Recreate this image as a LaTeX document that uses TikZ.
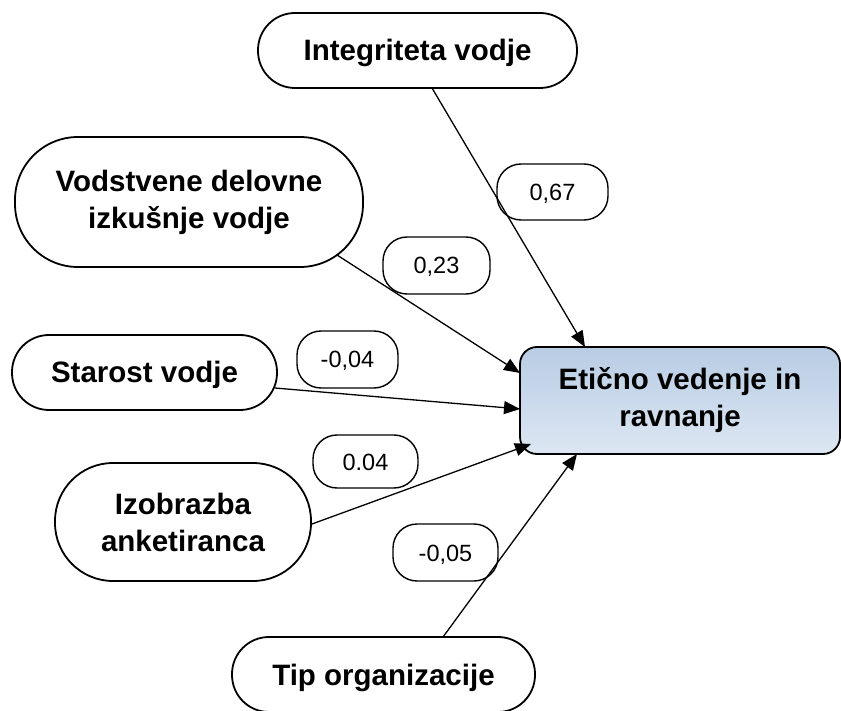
\documentclass[tikz,border=0pt]{standalone}
\usepackage{fontspec}
\setmainfont{Liberation Sans}
\usetikzlibrary{arrows.meta,calc}
\definecolor{boxtop}{HTML}{B8CCE4}
\definecolor{boxbot}{HTML}{DDE7F3}
\begin{document}
\begin{tikzpicture}[x=1pt,y=-1pt,
  factor/.style={draw, line width=1.8pt, fill=white, align=center,
    font=\fontsize{29.5}{37}\selectfont\bfseries, inner sep=0pt},
  oneline/.style={text height=21pt, text depth=0pt},
  coef/.style={draw, line width=1.4pt, rounded corners=24pt, inner sep=0pt,
    font=\fontsize{23.5}{27}\selectfont, text height=17pt, text depth=0pt},
  link/.style={line width=1.3pt, -{Triangle[length=16pt,width=13pt]}}]
\useasboundingbox (0,0) rectangle (841,711);
\clip (0,0) rectangle (841,711);

% outcome
\node[factor, minimum width=320pt, minimum height=107pt, rounded corners=17pt,
      top color=boxtop, bottom color=boxbot] (eti) at (680,400.5)
      {Etično vedenje in\\ravnanje};

% predictors
\node[factor, oneline, minimum width=319pt, minimum height=75pt, rounded corners=37pt]
  (integ) at (417.5,50.5) {Integriteta vodje};
\node[factor, minimum width=348pt, minimum height=130pt, rounded corners=63pt]
  (vodst) at (189,202) {Vodstvene delovne\\izkušnje vodje};
\node[factor, oneline, minimum width=265pt, minimum height=75pt, rounded corners=37pt]
  (staro) at (144.5,372.5) {Starost vodje};
\node[factor, minimum width=256pt, minimum height=118pt, rounded corners=58pt]
  (izobr) at (183,522) {Izobrazba\\anketiranca};
\node[factor, oneline, minimum width=303pt, minimum height=75pt, rounded corners=37pt]
  (tipor) at (383.5,674.5) {Tip organizacije};

% path coefficients
\node[coef, minimum width=111pt, minimum height=56pt] (c1) at (552.5,192) {0,67};
\node[coef, minimum width=107pt, minimum height=57pt] (c2) at (436.5,265.5) {0,23};
\node[coef, minimum width=101pt, minimum height=57pt] (c3) at (347.5,359.5) {-0,04};
\node[coef, minimum width=105pt, minimum height=53pt] (c4) at (365.5,461.5) {0.04};
\node[coef, minimum width=105pt, minimum height=57pt] (c5) at (445.5,552.5) {-0,05};

% effects
\draw[link] ($(integ.center)+(14.5,37.5)$) -- ($(eti.center)+(-95,-53.5)$);
\draw[link] ($(vodst.center)+(148,53)$) -- ($(eti.center)+(-160,-27.5)$);
\draw[link] ($(staro.center)+(130.5,15.5)$) -- ($(eti.center)+(-160,8.5)$);
\draw[link] ($(izobr.center)+(129,2)$) -- ($(eti.center)+(-149,43.5)$);
\draw[link] ($(tipor.center)+(59.5,-37.5)$) -- ($(eti.center)+(-103,53.5)$);
\end{tikzpicture}
\end{document}
